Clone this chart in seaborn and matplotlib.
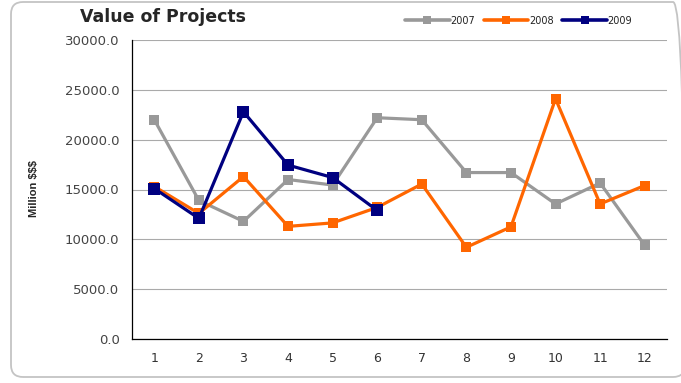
import matplotlib
matplotlib.use("Agg")
import matplotlib.pyplot as plt
from matplotlib.patches import FancyBboxPatch
from matplotlib.ticker import FixedLocator, FuncFormatter
from matplotlib.lines import Line2D
from matplotlib.transforms import IdentityTransform
import seaborn as sns
import pandas as pd

months = [1, 2, 3, 4, 5, 6, 7, 8, 9, 10, 11, 12]
v2007 = [22000, 13900, 11800, 16000, 15450, 22200, 22000, 16700, 16700, 13550, 15650, 9400]
v2008 = [15300, 12600, 16300, 11300, 11650, 13200, 15550, 9200, 11250, 24100, 13550, 15400]
v2009 = [15100, 12100, 22800, 17450, 16200, 12900]
series = ["2007", "2008", "2009"]
colors = ["#999999", "#FF6600", "#000080"]

rows = []
for name, vals in zip(series, [v2007, v2008, v2009]):
    for m, v in zip(months, vals):
        rows.append({"Month": m, "Value": v, "Year": name})
df = pd.DataFrame(rows)

sns.set_style("white")
plt.rcParams["font.family"] = ["DejaVu Sans"]

fig = plt.figure(figsize=(6.81, 3.83), dpi=100)
ax = fig.add_axes([132 / 681, 1 - 339 / 383, (667 - 132) / 681, (339 - 40) / 383])

# rounded frame (pixel coordinates, origin bottom-left)
frame = FancyBboxPatch((11, 6), 674, 375,
                       boxstyle="round,pad=0,rounding_size=12",
                       transform=IdentityTransform(), fill=False,
                       edgecolor="#c4c4c4", linewidth=1.3, zorder=0)
fig.patches.append(frame)

sns.lineplot(data=df, x="Month", y="Value", hue="Year", style="Year",
             palette=colors, markers=["s", "s", "s"], dashes=False,
             linewidth=2.3, markersize=8, markeredgewidth=0, ax=ax,
             legend=False)
for line, ms in zip(ax.lines, [6.5, 7.5, 8.2]):
    line.set_markersize(ms)

ax.set_xlim(0.5, 12.5)
ax.set_ylim(0, 30000)
ax.set_yticks([0, 5000, 10000, 15000, 20000, 25000, 30000])
ax.yaxis.set_major_formatter(FuncFormatter(lambda v, p: f"{v:.1f}"))
ax.set_xticks(months)
ax.xaxis.set_minor_locator(FixedLocator([m + 0.5 for m in range(0, 13)]))
ax.tick_params(axis="x", which="major", length=0, pad=9, labelsize=9, labelcolor="#333333")
ax.tick_params(axis="x", which="minor", length=4, width=0.8, color="black", direction="out")
ax.tick_params(axis="y", which="major", length=6, width=0.8, color="black", direction="out",
               labelsize=9.5, labelcolor="#444444", pad=3)
ax.grid(axis="y", color="#aaaaaa", linewidth=0.8)
ax.set_axisbelow(True)
for s in ["top", "right"]:
    ax.spines[s].set_visible(False)
for s in ["left", "bottom"]:
    ax.spines[s].set_color("black")
    ax.spines[s].set_linewidth(0.9)
ax.set_xlabel("")
ax.set_ylabel("Million $$$", fontsize=8, fontweight="bold", family="Liberation Sans")
ax.yaxis.set_label_coords((39 - 132) / 535, (339 - 189) / 299)

fig.text(80 / 681, 1 - 17 / 383, "Value of Projects", fontsize=12.5, fontweight="bold",
         va="center", ha="left")

handles = [Line2D([0], [0], color=c, linewidth=2.6, marker="s", markersize=5.5,
                  markeredgewidth=0) for c in colors]
fig.legend(handles, series, loc="center left", bbox_to_anchor=(405 / 681, 1 - 20.5 / 383),
           ncol=3, frameon=False, fontsize=7, handlelength=4.6, handletextpad=0.05,
           columnspacing=0.9, borderpad=0, borderaxespad=0, labelcolor="#222222")

fig.savefig("out.png", dpi=100)
